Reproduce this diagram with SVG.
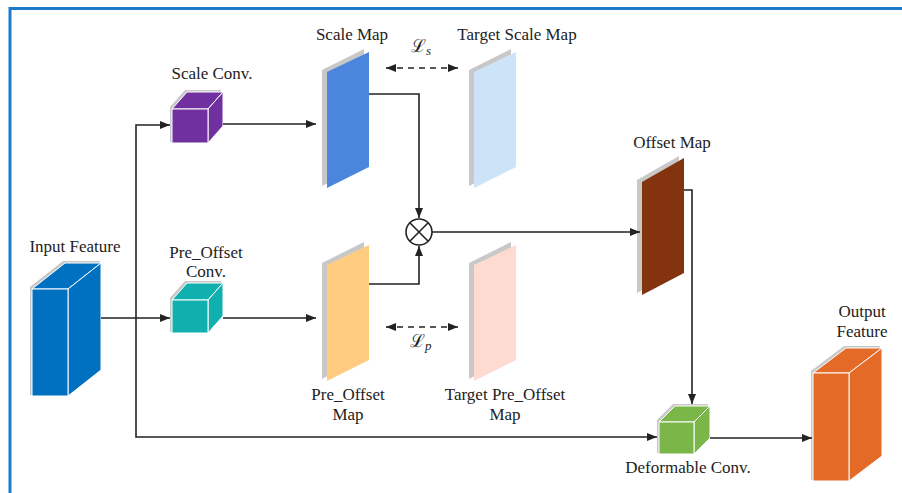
<svg xmlns="http://www.w3.org/2000/svg" width="902" height="493" viewBox="0 0 902 493">
<defs>
<marker id="arr" markerWidth="10" markerHeight="8" refX="10" refY="4" orient="auto-start-reverse" markerUnits="userSpaceOnUse">
<path d="M0,0 L10,4 L0,8 z" fill="#222"/>
</marker>
<style>
.lbl{font-family:"Liberation Serif","Times New Roman",serif;font-size:17px;fill:#222;text-anchor:middle}
.math{font-family:"DejaVu Serif","Liberation Serif",serif;fill:#222}
.sub{font-family:"Liberation Serif",serif;font-style:italic}
.edge{fill:none;stroke:#222;stroke-width:1.6}
.dash{fill:none;stroke:#222;stroke-width:1.6;stroke-dasharray:6,5}
.shadow{fill:#c8c8c8;stroke:none}
.face{stroke:#ffffff;stroke-width:1;stroke-linejoin:round}
</style>
</defs>
<rect x="0" y="0" width="902" height="493" fill="#ffffff"/>
<!-- frame -->
<path d="M10,493 V8.5 H902" fill="none" stroke="#1f7ac9" stroke-width="3"/>

<!-- Input Feature -->
<g id="input-feature">
<polygon class="shadow" points="30,395 30,287 63,261 100,261 100,369 66,395"/>
<polygon class="face" fill="#0070c0" points="32,289 65,263 101,263 68,289"/>
<polygon class="face" fill="#0070c0" points="68,289 101,263 101,370 68,396"/>
<rect class="face" fill="#0070c0" x="32" y="289" width="36" height="107"/>
<text class="lbl" x="75" y="252">Input Feature</text>
</g>

<!-- Scale Conv -->
<g id="scale-conv">
<polygon class="shadow" points="170,142 170,107 185,90 221,90 221,124 206,142"/>
<polygon class="face" fill="#7030a0" points="172,109 187,92 223,92 208,109"/>
<polygon class="face" fill="#7030a0" points="208,109 223,92 223,126 208,143"/>
<rect class="face" fill="#7030a0" x="172" y="109" width="36" height="34"/>
<text class="lbl" x="212" y="79">Scale Conv.</text>
</g>

<!-- Pre_Offset Conv -->
<g id="pre-offset-conv">
<polygon class="shadow" points="170,332 170,298 185,281 221,281 221,315 206,332"/>
<polygon class="face" fill="#0fb0ad" points="172,300 187,283 223,283 208,300"/>
<polygon class="face" fill="#0fb0ad" points="208,300 223,283 223,316 208,333"/>
<rect class="face" fill="#0fb0ad" x="172" y="300" width="36" height="33"/>
<text class="lbl" x="206" y="258">Pre_Offset</text>
<text class="lbl" x="206" y="277">Conv.</text>
</g>

<!-- Scale Map -->
<g id="scale-map">
<polygon class="shadow" points="322,70 364,49 364,164 322,186"/>
<polygon fill="#4a86db" points="327,72 369,52 369,167 327,188"/>
<text class="lbl" x="352" y="40">Scale Map</text>
</g>

<!-- Target Scale Map -->
<g id="target-scale-map">
<polygon class="shadow" points="469,70 511,49 511,164 469,186"/>
<polygon fill="#cce3f8" points="474,72 516,52 516,167 474,188"/>
<text class="lbl" x="517" y="40">Target Scale Map</text>
</g>

<!-- Pre_Offset Map -->
<g id="pre-offset-map">
<polygon class="shadow" points="322,263 364,242 364,357 322,379"/>
<polygon fill="#ffcc80" points="327,265 369,245 369,360 327,381"/>
<text class="lbl" x="348" y="400">Pre_Offset</text>
<text class="lbl" x="348" y="420">Map</text>
</g>

<!-- Target Pre_Offset Map -->
<g id="target-pre-offset-map">
<polygon class="shadow" points="469,263 511,242 511,357 469,379"/>
<polygon fill="#fddbd1" points="474,265 516,245 516,360 474,381"/>
<text class="lbl" x="505" y="400">Target Pre_Offset</text>
<text class="lbl" x="505" y="420">Map</text>
</g>

<!-- Multiply -->
<g id="multiply">
<circle cx="419" cy="232" r="13" fill="#ffffff" stroke="#222" stroke-width="1.6"/>
<path d="M409.8,222.8 L428.2,241.2 M428.2,222.8 L409.8,241.2" stroke="#222" stroke-width="1.6"/>
</g>

<!-- Offset Map -->
<g id="offset-map">
<polygon class="shadow" points="637,180 679,156 679,271 637,293"/>
<polygon fill="#84330f" points="642,182 684,158 684,273 642,295"/>
<text class="lbl" x="672" y="148">Offset Map</text>
</g>

<!-- Deformable Conv -->
<g id="deformable-conv">
<polygon class="shadow" points="657,453 657,420 673,404 708,404 708,437 692,453"/>
<polygon class="face" fill="#7ab648" points="659,422 675,406 710,406 694,422"/>
<polygon class="face" fill="#7ab648" points="694,422 710,406 710,438 694,454"/>
<rect class="face" fill="#7ab648" x="659" y="422" width="35" height="32"/>
<text class="lbl" x="688" y="473">Deformable Conv.</text>
</g>

<!-- Output Feature -->
<g id="output-feature">
<polygon class="shadow" points="811,480 811,371 844,346 880,346 880,454 847,480"/>
<polygon class="face" fill="#e46b27" points="813,373 846,348 882,348 849,373"/>
<polygon class="face" fill="#e46b27" points="849,373 882,348 882,456 849,481"/>
<rect class="face" fill="#e46b27" x="813" y="373" width="36" height="108"/>
<text class="lbl" x="862" y="317">Output</text>
<text class="lbl" x="862" y="337">Feature</text>
</g>

<!-- Loss labels -->
<g id="loss-labels">
<text class="math" x="411" y="52" font-size="18">ℒ<tspan class="sub" font-size="13" dy="3">s</tspan></text>
<text class="math" x="410" y="347" font-size="18">ℒ<tspan class="sub" font-size="13" dy="3">p</tspan></text>
</g>

<!-- connectors -->
<g id="connectors">
<path class="edge" d="M101,318 H170" marker-end="url(#arr)"/>
<path class="edge" d="M136,318 V125 H170" marker-end="url(#arr)"/>
<path class="edge" d="M136,318 V437 H657" marker-end="url(#arr)"/>
<path class="edge" d="M223,124 H316" marker-end="url(#arr)"/>
<path class="edge" d="M223,318 H316" marker-end="url(#arr)"/>
<path class="edge" d="M369,94 H419 V218" marker-end="url(#arr)"/>
<path class="edge" d="M369,284 H419 V246" marker-end="url(#arr)"/>
<path class="edge" d="M432,232 H640" marker-end="url(#arr)"/>
<path class="edge" d="M684,190 H692 V404" marker-end="url(#arr)"/>
<path class="edge" d="M710,438 H812" marker-end="url(#arr)"/>
<path class="dash" d="M386,68 H458" marker-start="url(#arr)" marker-end="url(#arr)"/>
<path class="dash" d="M386,327 H458" marker-start="url(#arr)" marker-end="url(#arr)"/>
</g>
</svg>
